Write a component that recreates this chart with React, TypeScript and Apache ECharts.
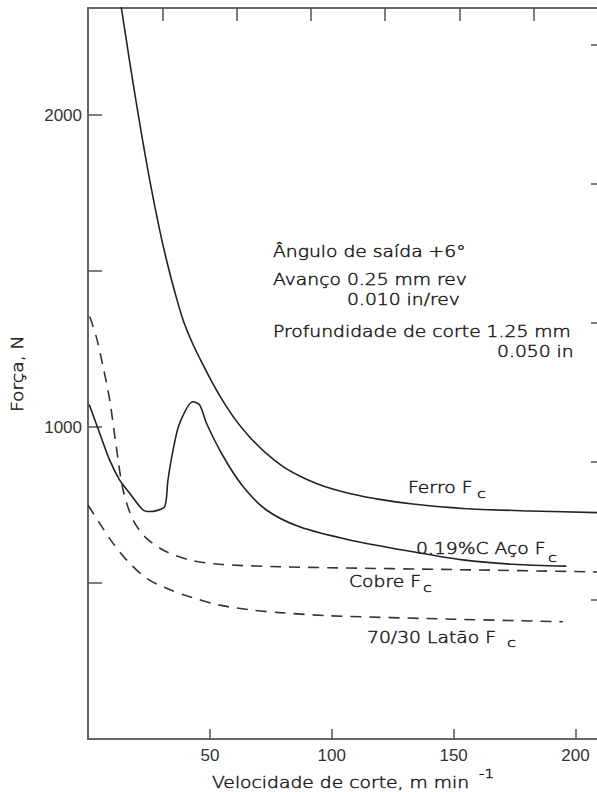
import React, { useEffect, useRef } from "react";
import * as echarts from "echarts";

// Cutting speed (m/min) and cutting force (N)
const ferroX = [11.4, 13.7, 17.1, 21.2, 25.3, 29.4, 32.4, 35.6, 39.0, 43.0, 47.2, 51.1, 55.4, 60.6, 66.3, 72.9, 80.0, 86.8, 93.7, 100.4, 107.3, 119.6, 133.3, 153.8, 181.2, 212.5];
const ferroY = [2449, 2343, 2170, 1974, 1792, 1631, 1529, 1433, 1343, 1266, 1199, 1141, 1083, 1022, 968, 917, 873, 843, 819, 801, 787, 768, 753, 739, 731, 725];

const acoX = [0.5, 4.8, 8.9, 13.0, 17.1, 22.6, 25.3, 28.1, 31.5, 32.8, 34.9, 37.6, 43.1, 45.8, 48.6, 55.4, 63.6, 73.2, 86.8, 107.3, 133.3, 153.8, 174.3, 196.2];
const acoY = [1072, 980, 894, 830, 788, 734, 729, 732, 745, 830, 926, 1012, 1081, 1071, 1012, 907, 809, 734, 680, 638, 600, 574, 560, 554];

const cobreX = [0.7, 3.4, 6.2, 8.9, 11.6, 14.4, 18.5, 24.0, 32.2, 41.7, 54.0, 78.6, 99.1, 150.0, 212.5];
const cobreY = [1354, 1289, 1193, 1087, 937, 798, 702, 643, 600, 574, 560, 552, 549, 543, 535];

const lataoX = [0, 4.8, 10.3, 15.8, 24.0, 32.2, 41.7, 54.0, 67.7, 78.6, 99.1, 150.0, 194.8];
const lataoY = [750, 691, 627, 574, 515, 483, 456, 429, 413, 405, 395, 384, 376];

const xTickLabels = [50, 100, 150, 200];
const yLabelValues = [1000, 2000];
const yTickValues = [500, 1000, 1500, 2000];
const lbfTickValues = [100, 200, 300, 400, 500];
const ftTickValues = [100, 200, 300, 400, 500, 600];

const X_MIN = 0;
const X_MAX = 212.5;
const Y_MIN = 0;
const Y_MAX = 2343;
const N_PER_LBF = 4.448;
const M_PER_FT = 0.3048;

const zip = (xs: number[], ys: number[]) => xs.map((x, i) => [x, ys[i]]);

const FONT = '"DejaVu Sans", sans-serif';
const SX = 1.25;
const INK = "#1a1a1a";

function label(x: number, y: number, text: string, size = 15, extra: any = {}) {
  return {
    type: "text",
    x,
    y,
    scaleX: SX,
    ...extra,
    style: {
      text,
      fill: INK,
      stroke: INK,
      lineWidth: 0.45,
      font: `200 ${size}px ${FONT}`,
      align: "left",
      verticalAlign: "middle",
    },
  };
}

export default function App() {
  const ref = useRef<HTMLDivElement>(null);

  useEffect(() => {
    if (!ref.current) return;
    const chart = echarts.init(ref.current, undefined, { renderer: "svg" });
    const axisLine = { show: true, onZero: false, lineStyle: { color: "#666", width: 2 } };
    const tickStyle = { color: "#555", width: 1.5 };
    const solid = { color: "#222", width: 1.6 };
    const dashed = { color: "#333", width: 1.6, type: [11, 8] as any };
    const fmt = (v: number) => String(v);

    chart.setOption({
      animation: false,
      backgroundColor: "#fff",
      grid: { left: 88, top: 8, width: 518, height: 731, containLabel: false, outerBoundsMode: "none" },
      xAxis: [
        {
          type: "value",
          min: X_MIN,
          max: X_MAX,
          position: "bottom",
          axisLine,
          splitLine: { show: false },
          axisTick: { show: true, inside: true, length: 10, lineStyle: tickStyle, customValues: xTickLabels },
          axisLabel: {
            customValues: xTickLabels,
            formatter: fmt,
            margin: 8,
            color: "#333",
            fontFamily: "Liberation Sans",
            fontSize: 17,
          },
        },
        {
          type: "value",
          min: X_MIN / M_PER_FT,
          max: X_MAX / M_PER_FT,
          position: "top",
          axisLine,
          splitLine: { show: false },
          axisTick: { show: true, inside: true, length: 13, lineStyle: tickStyle, customValues: ftTickValues },
          axisLabel: { show: false },
        },
      ],
      yAxis: [
        {
          type: "value",
          min: Y_MIN,
          max: Y_MAX,
          position: "left",
          axisLine,
          splitLine: { show: false },
          axisTick: { show: true, inside: true, length: 14, lineStyle: tickStyle, customValues: yTickValues },
          axisLabel: {
            customValues: yLabelValues,
            formatter: fmt,
            margin: 6,
            color: "#333",
            fontFamily: "Liberation Sans",
            fontSize: 17,
          },
        },
        {
          type: "value",
          min: Y_MIN / N_PER_LBF,
          max: Y_MAX / N_PER_LBF,
          position: "right",
          axisLine,
          splitLine: { show: false },
          axisTick: { show: true, inside: true, length: 15, lineStyle: tickStyle, customValues: lbfTickValues },
          axisLabel: { show: false },
        },
      ],
      series: [
        { name: "Ferro Fc", type: "line", data: zip(ferroX, ferroY), showSymbol: false, smooth: 0.3, lineStyle: solid, clip: true },
        { name: "0.19%C Aço Fc", type: "line", data: zip(acoX, acoY), showSymbol: false, smooth: 0.3, lineStyle: solid, clip: true },
        { name: "Cobre Fc", type: "line", data: zip(cobreX, cobreY), showSymbol: false, smooth: 0.3, lineStyle: dashed, clip: true },
        { name: "70/30 Latão Fc", type: "line", data: zip(lataoX, lataoY), showSymbol: false, smooth: 0.3, lineStyle: dashed, clip: true },
      ],
      graphic: [
        label(273, 252, "Ângulo de saída +6°"),
        label(273, 280, "Avanço 0.25 mm rev"),
        label(347, 300, "0.010 in/rev"),
        label(273, 332, "Profundidade de corte 1.25 mm"),
        label(497, 352, "0.050 in"),
        label(408, 488, "Ferro F"),
        label(477, 493, "c", 13),
        label(416, 549, "0.19%C Aço F"),
        label(548, 557, "c", 13),
        label(349, 582, "Cobre F"),
        label(423, 587, "c", 13),
        label(367, 638, "70/30 Latão F"),
        label(507, 642, "c", 13),
        label(212, 783, "Velocidade de corte, m min"),
        label(479, 774, "-1", 12),
        label(18, 412, "Força, N", 15, { rotation: Math.PI / 2 }),
      ],
    });
    return () => chart.dispose();
  }, []);

  return (
    <div style={{ position: "fixed", left: 0, top: 0, width: 597, height: 792, overflow: "hidden", background: "#fff" }}>
      <div ref={ref} style={{ width: 640, height: 792 }} />
    </div>
  );
}
